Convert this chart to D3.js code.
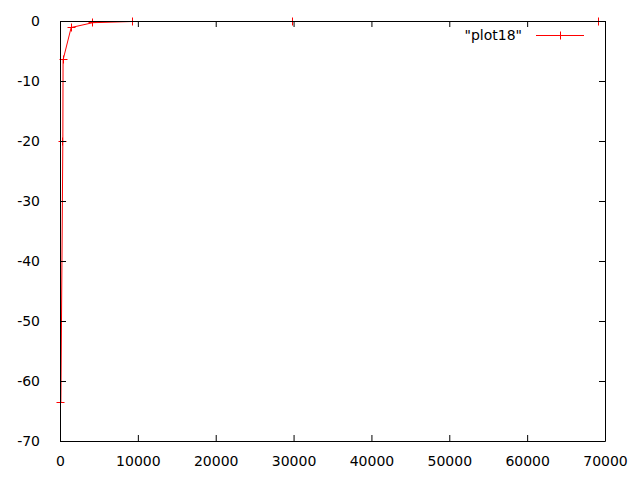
<!DOCTYPE html>
<meta charset="utf-8">
<style>
  body { margin: 0; background: #fff; }
  text { font-family: "DejaVu Sans", sans-serif; font-size: 14px; fill: #000; }
</style>
<script src="https://d3js.org/d3.v7.min.js"></script>
<div id="chart"></div>
<script>

// data
var xValues = [50, 300, 330, 1370, 4150, 9250, 29850, 69100];
var yValues = [-63.5, -20, -6.4, -1, -0.2, 0, 0, 0];
var seriesName = '"plot18"';
var xTicks = [0, 10000, 20000, 30000, 40000, 50000, 60000, 70000];
var yTicks = [0, -10, -20, -30, -40, -50, -60, -70];

var width = 640, height = 480;
var margin = {top: 21, right: 35, bottom: 39, left: 60};

var svg = d3.select("#chart").append("svg")
    .attr("width", width)
    .attr("height", height);

var x = d3.scaleLinear().domain([0, 70000]).range([margin.left, width - margin.right]);
var y = d3.scaleLinear().domain([-70, 0]).range([height - margin.bottom, margin.top]);

var data = xValues.map(function(v, i) { return {x: v, y: yValues[i]}; });

// plain text labels, hyphen minus like the original
var plain = function(d) { return String(d); };

// the line (half-pixel shift so it sits on the same pixels as the border)
var plot = svg.append("g").attr("transform", "translate(0.5,0.5)");
plot.append("path")
    .datum(data)
    .attr("fill", "none")
    .attr("stroke", "#ff0000")
    .attr("stroke-width", 1)
    .attr("d", d3.line()
      .x(function(d) { return x(d.x); })
      .y(function(d) { return y(d.y); }));

// plus markers
function plus(g, cx, cy) {
  g.append("path")
    .attr("d", "M" + (cx - 4) + "," + cy + "H" + (cx + 4) + "M" + cx + "," + (cy - 4) + "V" + (cy + 4))
    .attr("stroke", "#ff0000")
    .attr("stroke-width", 1)
    .attr("fill", "none");
}
data.forEach(function(d) { plus(plot, Math.round(x(d.x)), Math.round(y(d.y))); });

// axes, ticks pointing inward on all four sides
var tl = 6;
svg.append("g")
    .attr("transform", "translate(0," + (height - margin.bottom) + ")")
    .call(d3.axisBottom(x).tickValues(xTicks).tickSizeInner(-tl).tickSizeOuter(0).tickPadding(15).tickFormat(plain));
svg.append("g")
    .attr("transform", "translate(0," + margin.top + ")")
    .call(d3.axisTop(x).tickValues(xTicks).tickSizeInner(-tl).tickSizeOuter(0).tickFormat(""));
svg.append("g")
    .attr("transform", "translate(" + margin.left + ",0)")
    .call(d3.axisLeft(y).tickValues(yTicks).tickSizeInner(-tl).tickSizeOuter(0).tickPadding(20).tickFormat(plain));
svg.append("g")
    .attr("transform", "translate(" + (width - margin.right) + ",0)")
    .call(d3.axisRight(y).tickValues(yTicks).tickSizeInner(-tl).tickSizeOuter(0).tickFormat(""));

svg.selectAll(".domain").attr("stroke", "#000");
svg.selectAll(".tick line").attr("stroke", "#000");
svg.selectAll(".tick text").style("font-family", "DejaVu Sans").style("font-size", "14px");

// legend
var ly = 35;
svg.append("text")
    .attr("x", 522)
    .attr("y", ly + 5)
    .attr("text-anchor", "end")
    .text(seriesName);
svg.append("line")
    .attr("x1", 536).attr("x2", 584)
    .attr("y1", ly + 0.5).attr("y2", ly + 0.5)
    .attr("stroke", "#ff0000");
plus(svg, 560.5, ly + 0.5);

</script>
